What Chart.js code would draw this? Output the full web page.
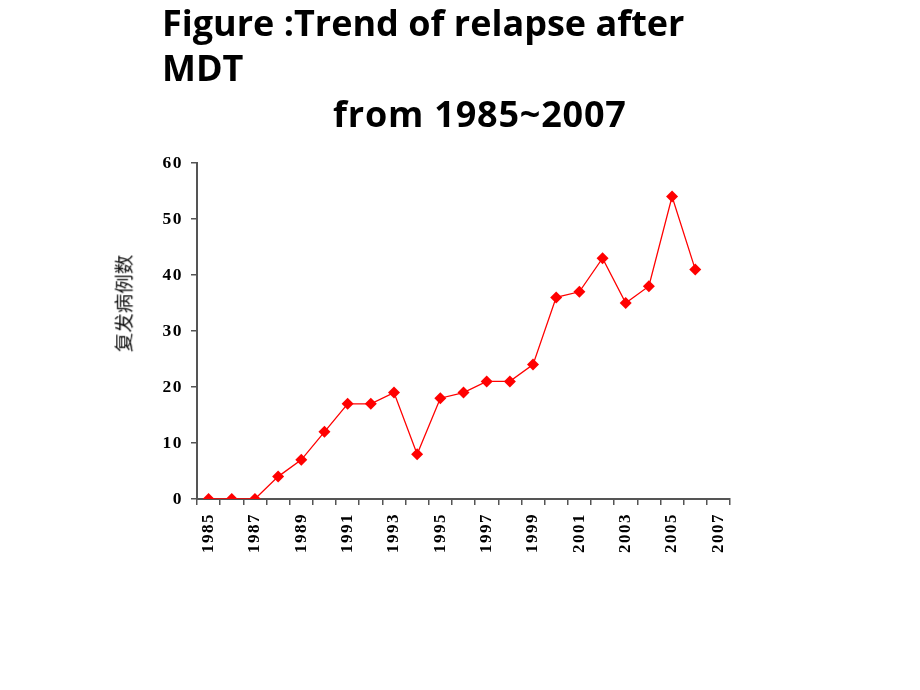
<!DOCTYPE html>
<html><head><meta charset="utf-8">
<script src="https://cdn.jsdelivr.net/npm/chart.js@4/dist/chart.umd.min.js"></script>
<style>
html,body{margin:0;padding:0;background:#fff;}
#wrap{position:relative;width:920px;height:690px;overflow:hidden;}
#c{position:absolute;left:0;top:0;}
.t{position:absolute;font-family:"Open Sans","Noto Sans",sans-serif;font-weight:bold;font-size:36px;color:#000;white-space:nowrap;line-height:45px;}
#ylab{position:absolute;font-family:"Noto Sans CJK SC",serif;font-size:19.5px;font-weight:normal;color:#111;white-space:nowrap;transform:rotate(-90deg);transform-origin:center center;}
</style></head>
<body><div id="wrap">
<canvas id="c" width="920" height="690"></canvas>
<div class="t" style="left:162px;top:0px;">Figure :Trend of relapse after</div>
<div class="t" style="left:162px;top:45px;">MDT</div>
<div class="t" style="left:333px;top:91px;letter-spacing:0.8px;">from 1985~2007</div>
<div id="ylab">复发病例数</div>
</div>
<script>
const years = ["1985","1986","1987","1988","1989","1990","1991","1992","1993","1994","1995","1996","1997","1998","1999","2000","2001","2002","2003","2004","2005","2006","2007"];
const relapses = [0,0,0,4,7,12,17,17,19,8,18,19,21,21,24,36,37,43,35,38,54,41,null];
const yTicks = [0,10,20,30,40,50,60];
const yAxisTitle = "复发病例数";

document.getElementById('ylab').textContent = yAxisTitle;
const yl = document.getElementById('ylab');
yl.style.left = (122.5 - yl.offsetWidth/2) + 'px';
yl.style.top = (303.5 - yl.offsetHeight/2) + 'px';

const spacing = { id: 'spacing', beforeDraw(chart) { chart.ctx.letterSpacing = '1.5px'; } };

new Chart(document.getElementById('c'), {
  type: 'line',
  plugins: [spacing],
  data: { labels: years, datasets: [{
    data: relapses,
    borderColor: '#ff0000', backgroundColor: '#ff0000',
    borderWidth: 1.3, pointStyle: 'rectRot', pointRadius: 6, pointHoverRadius: 6,
    pointBorderWidth: 0, tension: 0, spanGaps: false
  }]},
  options: {
    responsive: false, animation: false,
    layout: { padding: { left: 130, right: 190, top: 163, bottom: 131 } },
    plugins: { legend: { display: false }, tooltip: { enabled: false } },
    scales: {
      x: {
        type: 'category', offset: true,
        grid: { display: true, drawOnChartArea: false, drawTicks: true, tickLength: 6, color: '#555', lineWidth: 1.5, offset: true },
        border: { display: true, color: '#555', width: 2 },
        ticks: { autoSkip: false, maxRotation: 90, minRotation: 90, padding: 8, color: '#000',
          font: { family: '"Liberation Serif","Times New Roman",serif', weight: 'bold', size: 17 },
          callback: function(v, i) { return i % 2 === 0 ? this.getLabelForValue(v) : ''; } },
        afterFit: s => { s.height = 60; }
      },
      y: {
        min: 0, max: 60,
        afterBuildTicks: s => { s.ticks = yTicks.map(v => ({ value: v })); },
        grid: { display: true, drawOnChartArea: false, drawTicks: true, tickLength: 6, color: '#555', lineWidth: 1.5 },
        border: { display: true, color: '#555', width: 2 },
        ticks: { color: '#000', padding: 8,
          font: { family: '"Liberation Serif","Times New Roman",serif', weight: 'bold', size: 17.5 } },
        afterFit: s => { s.width = 67; }
      }
    }
  }
});
</script>
</body></html>
